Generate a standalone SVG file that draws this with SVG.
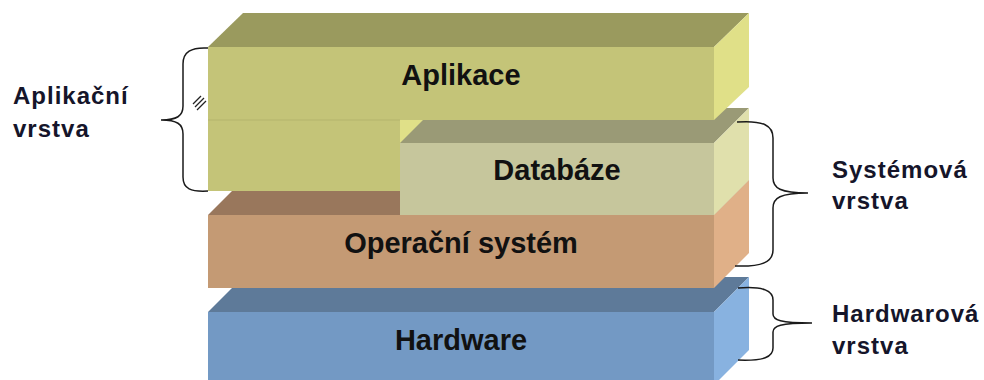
<svg xmlns="http://www.w3.org/2000/svg" width="984" height="380" viewBox="0 0 984 380">
<style>
.lbl{font-family:"Liberation Sans",Arial,sans-serif;font-weight:bold;font-size:29px;fill:#111111;text-anchor:middle}
.side{font-family:"Liberation Sans",Arial,sans-serif;font-weight:bold;font-size:24px;fill:#15152a;letter-spacing:1px}
.brace{fill:none;stroke:#1a1a1a;stroke-width:1.5}
</style>
<rect width="984" height="380" fill="#ffffff"/>
<g id="hardware">
<polygon points="208,312 243,277 749,277 714,312" fill="#5e7a99"/>
<polygon points="714,312 749,277 749,350 714,385" fill="#88b2e0"/>
<rect x="208" y="312" width="506" height="73" fill="#7399c4"/>
<text class="lbl" x="461" y="350">Hardware</text>
</g>
<g id="operacni-system">
<polygon points="208,215 243,180 749,180 714,215" fill="#99775c"/>
<polygon points="714,215 749,180 749,253 714,288" fill="#e0b088"/>
<rect x="208" y="215" width="506" height="73" fill="#c49a74"/>
<text class="lbl" x="461" y="253">Operační systém</text>
</g>
<g id="aplikace-sloupec-bok">
<polygon points="400,120 435,85 435,155 400,190" fill="#e0e088"/>
</g>
<g id="databaze">
<polygon points="400,143 435,108 749,108 714,143" fill="#9a9a76"/>
<polygon points="714,143 749,108 749,180 714,215" fill="#e0e0ac"/>
<rect x="400" y="143" width="314" height="72" fill="#c6c69c"/>
<text class="lbl" x="557" y="180">Databáze</text>
</g>
<g id="aplikace">
<polygon points="208,47 243,13 749,13 714,47" fill="#9a9a5e"/>
<polygon points="714,47 749,13 749,87 714,120" fill="#e0e088"/>
<path d="M208,47 H714 V120 H400 V191 H208 Z" fill="#c4c478"/>
<line x1="208" y1="120" x2="400" y2="120" stroke="#b4b46c" stroke-width="1"/>
<text class="lbl" x="461" y="85">Aplikace</text>
<g stroke="#222" stroke-width="1.2">
<line x1="193" y1="104" x2="201" y2="96"/>
<line x1="195" y1="107" x2="204" y2="98"/>
<line x1="197" y1="110" x2="206" y2="101"/>
</g>
</g>
<g id="connectors">
<path class="brace" d="M208,48 C191,47 183,52 183,64 L183,106 C183,116 177,120 161,120 C177,120 183,124 183,134 L183,177 C183,189 191,192 208,191"/>
<path class="brace" d="M737,122 C764,120 773,126 773,138 L773,178 C773,188 780,193 808,193 C780,193 773,198 773,208 L773,250 C773,262 762,267 735,266"/>
<path class="brace" d="M738,288 C764,286 773,291 773,300 L773,314 C773,320 780,323 812,323 C780,323 773,326 773,332 L773,348 C773,357 764,361 738,360"/>
</g>
<g id="labels">
<text class="side" x="13" y="104">Aplikační</text>
<text class="side" x="13" y="137">vrstva</text>
<text class="side" x="832" y="178">Systémová</text>
<text class="side" x="832" y="209">vrstva</text>
<text class="side" x="832" y="322">Hardwarová</text>
<text class="side" x="832" y="354">vrstva</text>
</g>
</svg>
